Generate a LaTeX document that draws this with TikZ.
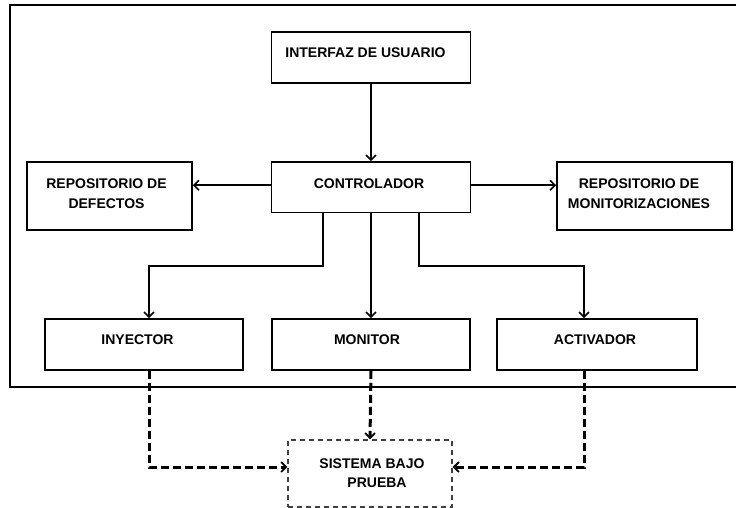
\documentclass[tikz,border=0pt]{standalone}
\usepackage{fontspec}
\setmainfont{Liberation Sans}
\usetikzlibrary{arrows.meta}
\begin{document}
\begin{tikzpicture}[x=1pt,y=-1pt,
  box/.style={draw=black,line width=1.7pt,rectangle,inner sep=0pt},
  lbl/.style={inner sep=0pt,anchor=north,font=\fontsize{14}{20}\selectfont\bfseries,align=center},
  arr/.style={draw=black,line width=1.7pt,-{Straight Barb[length=5pt,width=10pt,line width=1.6pt]}},
  darr/.style={draw=black,line width=3pt,dash pattern=on 8pt off 4pt,-{Straight Barb[length=5pt,width=10pt,line width=1.8pt]}},
  dbox/.style={draw=black!75,line width=1.4pt,dash pattern=on 5pt off 4pt,rectangle,inner sep=0pt}]
\useasboundingbox (0,0) rectangle (736,508);
\fill[white] (0,0) rectangle (736,508);
\clip (0,0) rectangle (736,508);
% outer frame
\draw[line width=1.7pt] (10,5) rectangle (745,387);
% boxes
\node[box,minimum width=199pt,minimum height=51pt] (iu) at (371,57.5) {};
\node[box,minimum width=199pt,minimum height=50.5pt] (ctl) at (371,187.25) {};
\node[box,minimum width=165pt,minimum height=68pt] (rd) at (109.5,196) {};
\node[box,minimum width=175pt,minimum height=68pt] (rm) at (644.5,196) {};
\node[box,minimum width=198pt,minimum height=51pt] (iny) at (144,344.5) {};
\node[box,minimum width=198pt,minimum height=51pt] (mon) at (371,344.5) {};
\node[box,minimum width=200pt,minimum height=51pt] (act) at (597,344.5) {};
\node[dbox,minimum width=164pt,minimum height=67pt] (sis) at (370,473.5) {};
% texts
\node[lbl] (tiu) at (365.5,48) {INTERFAZ DE USUARIO};
\node[lbl] (tctl) at (369,178.3) {CONTROLADOR};
\node[lbl] (trd) at (106.5,179) {REPOSITORIO DE\\DEFECTOS};
\node[lbl] (trm) at (639,179) {REPOSITORIO DE\\MONITORIZACIONES};
\node[lbl] (tiny) at (137.5,335) {INYECTOR};
\node[lbl] (tmon) at (367,335) {MONITOR};
\node[lbl] (tact) at (595,335) {ACTIVADOR};
\node[lbl,font=\fontsize{14}{19}\selectfont\bfseries] (tsis) at (372,459) {SISTEMA BAJO\\\hspace*{10pt}PRUEBA};
% coordinates
\coordinate (jl) at (149,266);
\coordinate (jr) at (584,266);
\coordinate (dl) at (149,467);
\coordinate (dr) at (584,467);
% solid connectors
\draw[arr] (iu.south) -- (ctl.north);
\draw[arr] ([yshift=2pt]ctl.west) -- ([yshift=2pt]ctl.west -| rd.east);
\draw[arr] ([yshift=2pt]ctl.east) -- ([yshift=2pt]ctl.east -| rm.west);
\draw[arr] ([xshift=-48pt]ctl.south) |- (jl) -- (jl |- iny.north);
\draw[arr] (ctl.south) -- (mon.north);
\draw[arr] ([xshift=48pt]ctl.south) |- (jr) -- (jr |- act.north);
% dashed connectors
\draw[darr] (jl |- iny.south) -- (dl) -- (dl -| sis.west);
\draw[darr] (mon.south) -- (sis.north);
\draw[darr] (jr |- act.south) -- (dr) -- (dr -| sis.east);
\end{tikzpicture}
\end{document}
